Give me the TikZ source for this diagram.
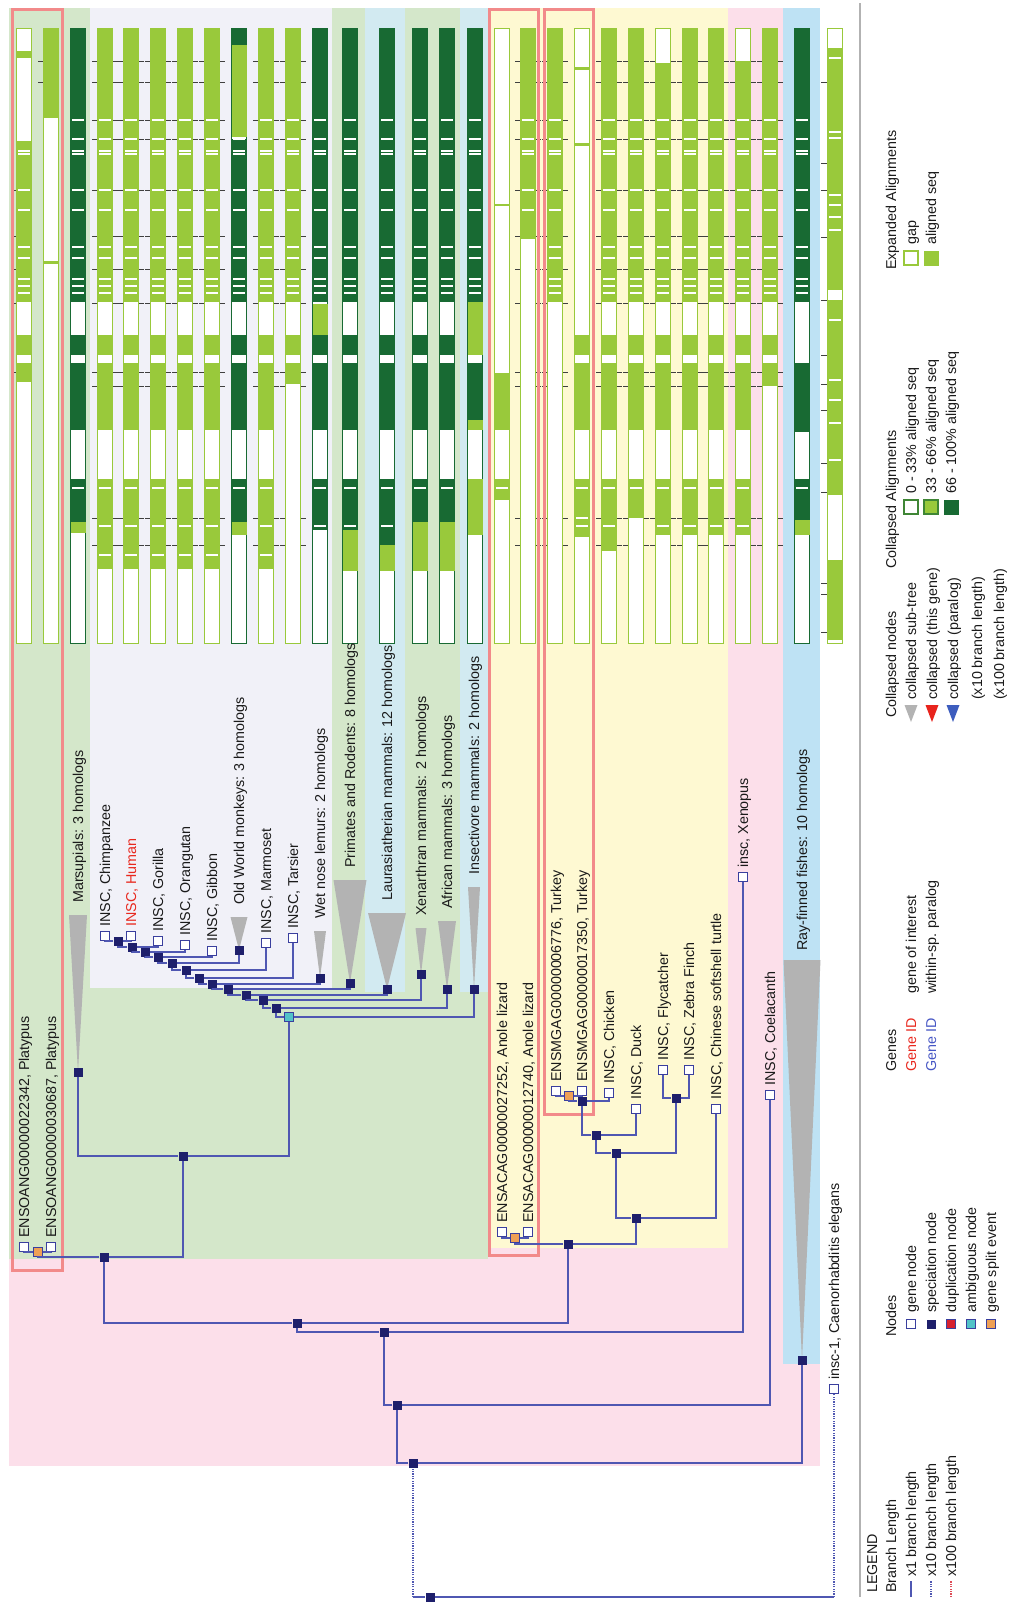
\documentclass[tikz,border=0pt]{standalone}
\usepackage{fontspec}
\setmainfont{Liberation Sans}
\usepackage{tikz}
\usetikzlibrary{calc}
\definecolor{branchc}{HTML}{4F57B2}
\definecolor{genebd}{HTML}{3A3F9E}
\definecolor{specc}{HTML}{1E1F6B}
\definecolor{splitc}{HTML}{EFA055}
\definecolor{ambigc}{HTML}{52C3C8}
\definecolor{duplc}{HTML}{D6202E}
\definecolor{bgpink}{HTML}{FCDFEA}
\definecolor{bggreen}{HTML}{D4E7CA}
\definecolor{bglav}{HTML}{F1F1F8}
\definecolor{bgblue}{HTML}{D2EAF1}
\definecolor{bgyellow}{HTML}{FEF9D2}
\definecolor{bgfish}{HTML}{BEE2F4}
\definecolor{hilite}{HTML}{F28A8A}
\definecolor{alnlight}{HTML}{99C93B}
\definecolor{alndark}{HTML}{186A33}
\definecolor{collgrey}{HTML}{B3B3B3}
\definecolor{collred}{HTML}{E8241D}
\definecolor{collblue}{HTML}{3D5DBE}
\definecolor{txt}{HTML}{1A1A1A}
\definecolor{goi}{HTML}{E8281E}
\definecolor{para}{HTML}{4656C4}

% filled spans of an alignment column: x, colour, ya/yb list
\newcommand{\alnfill}[3]{%
  \edef\alnspans{#3}%
  \foreach \ya/\yb in \alnspans {\fill[#2] (#1-7.5,\ya) rectangle (#1+7.5,\yb);}}
% alignment column: x, colour, filled spans, white stripes
\newcommand{\alncol}[4]{%
  \draw[#2, line width=0.8pt, fill=white] (#1-7.5,28) rectangle (#1+7.5,643);
  \alnfill{#1}{#2}{#3}%
  \edef\alnstripes{#4}%
  \foreach \ys in \alnstripes {\fill[white] (#1-6.3,\ys-1.1) rectangle (#1+6.3,\ys+1.1);}}
\def\spanstd{28/302,335/355,363/430,479/569}
\def\stripstd{120,139,151,154,190,210,247,258,279,286,293,488,526,555}
\def\tickstd{61,82,120,139,190,236,269,303,372,386,518,545}

\begin{document}
\begin{tikzpicture}[x=1pt, y=-1pt,
    every node/.style={font=\fontsize{14.3}{16}\selectfont, text=txt},
    lbl/.style={rotate=90, anchor=west, inner sep=0pt, text height=10pt, text depth=0pt},
    gene/.style={rectangle, draw=genebd, fill=white, line width=1.4pt, minimum size=8.5pt, inner sep=0pt},
    specn/.style={rectangle, fill=specc, minimum size=9pt, inner sep=0pt},
    gsplit/.style={rectangle, draw=genebd, fill=splitc, line width=1.2pt, minimum size=9pt, inner sep=0pt},
    ambn/.style={rectangle, draw=genebd, fill=ambigc, line width=1.2pt, minimum size=9pt, inner sep=0pt},
    dupn/.style={rectangle, draw=genebd, fill=duplc, line width=1.2pt, minimum size=9pt, inner sep=0pt},
    branch/.style={draw=branchc, line width=1.3pt},
    xten/.style={branch, dash pattern=on 1.2pt off 1.2pt},
    xhund/.style={draw=duplc!80, line width=1.3pt, dash pattern=on 1.2pt off 1.2pt},
    hibox/.style={draw=hilite, line width=3pt},
    gapmark/.style={draw=black!75, line width=0.9pt},
  ]
  \useasboundingbox (0,0) rectangle (1010,1607);

  % taxon backgrounds
  \fill[bgpink] (9,8) rectangle (820,1466);
  \fill[bggreen] (9,8) rectangle (488,1259);
  \fill[bglav] (90,8) rectangle (332,988);
  \fill[bgblue] (365,8) rectangle (405,992);
  \fill[bgblue] (460,8) rectangle (488,992);
  \fill[bgyellow] (488,8) rectangle (728,1248);
  \fill[bgfish] (783,8) rectangle (820,1364);

  % gap marks beside expanded columns
  \foreach \x in {105,131,158,185,212,266,293,528,555,609,636,663,690,716,743,770}
    \foreach \y in \tickstd {\draw[gapmark] (\x-13,\y) -- (\x+13,\y);}
  \foreach \y in {190,236,269,303,372} {\draw[gapmark] (11,\y) -- (24,\y);}
  \foreach \y in {61,82} {\draw[gapmark] (38,\y) -- (51,\y);}
  \foreach \y in {82,163,190,237,300,355,384,410,463,492,583,594,632} {\draw[gapmark] (821,\y) -- (835,\y);}

  % alignments
  \alncol{24}{alnlight}{51/58,141/302,335/355,363/382}{\stripstd}
  \alncol{51}{alnlight}{28/118,261/264}{120}
  \alncol{78}{alndark}{28/302,335/355,363/430,479/522}{\stripstd}
  \alnfill{78}{alnlight}{522/533}
  \foreach \x in {105,131,158,185,212,266} {\alncol{\x}{alnlight}{\spanstd}{\stripstd}}
  \alncol{239}{alndark}{28/45,139/302,335/355,363/430,479/522}{\stripstd}
  \alnfill{239}{alnlight}{45/137,522/535}
  \alncol{293}{alnlight}{28/302,335/355,363/384}{\stripstd}
  \alncol{320}{alndark}{28/302,335/355,363/430,479/530}{\stripstd}
  \alnfill{320}{alnlight}{304/335}
  \alncol{350}{alndark}{28/302,335/355,363/430,479/530}{\stripstd}
  \alnfill{350}{alnlight}{530/571}
  \alncol{387}{alndark}{28/302,335/355,363/430,479/545}{\stripstd}
  \alnfill{387}{alnlight}{545/571}
  \alncol{420}{alndark}{28/302,335/355,363/430,479/522}{\stripstd}
  \alnfill{420}{alnlight}{522/571}
  \alncol{447}{alndark}{28/302,335/355,363/430,479/522}{\stripstd}
  \alnfill{447}{alnlight}{522/571}
  \alncol{475}{alndark}{28/302,363/420}{\stripstd}
  \alnfill{475}{alnlight}{302/355,420/430,479/535}
  \alncol{502}{alnlight}{204/206,373/430,479/500}{488}
  \alncol{528}{alnlight}{28/239}{\stripstd}
  \alncol{555}{alnlight}{28/302}{\stripstd}
  \alncol{582}{alnlight}{67/70,143/146,335/355,363/430,479/537}{488,518,526}
  \alncol{609}{alnlight}{28/302,335/355,363/430,479/551}{\stripstd}
  \alncol{636}{alnlight}{28/302,335/355,363/430,479/518}{\stripstd}
  \alncol{663}{alnlight}{63/302,335/355,363/430,479/535}{\stripstd}
  \alncol{690}{alnlight}{28/302,335/355,363/430,479/535}{\stripstd}
  \alncol{716}{alnlight}{28/302,335/355,363/430,479/535}{\stripstd}
  \alncol{743}{alnlight}{61/302,335/355,363/430,479/535}{\stripstd}
  \alncol{770}{alnlight}{28/302,335/355,363/386}{\stripstd}
  \alncol{802}{alndark}{28/302,363/432,479/520}{\stripstd}
  \alnfill{802}{alnlight}{520/535}
  \alncol{835}{alnlight}{48/290,300/495,560/640}{58,132,138,195,205,217,230,320,380,400,423,460}

  % highlighted genes
  \draw[hibox] (12,9) rectangle (62,1270);
  \draw[hibox] (489,9) rectangle (538,1255);
  \draw[hibox] (544,9) rectangle (593,1114);

  % collapsed sub-trees
  \foreach \nm/\x/\y/\tp/\hw in {marsup/78/1072/915/9, owm/239/950/917/8.5, wetnose/320/978/931/6,
      primrod/350/983/880/16.5, laur/387/989/913/19, xenar/421/974/928/5.5,
      afric/447/989/921/9, insect/474/989/887/6, rayfin/802/1360/960/18.5}
  {
    \fill[collgrey] (\x-\hw,\tp) -- (\x+\hw,\tp) -- (\x,\y) -- cycle;
    \node[specn] (\nm) at (\x,\y) {};
  }

  % gene nodes
  \foreach \nm/\x/\y in {plata/24/1247, platb/51/1247, chimp/105/936, human/131/936,
      gorilla/158/941, orang/185/945, gibbon/212/951, marmoset/266/943, tarsier/293/938,
      anola/502/1232, anolb/528/1232, turka/556/1091, turkb/582/1091, chicken/609/1093,
      duck/636/1109, flycatcher/663/1070, zfinch/689/1070, turtle/716/1109,
      xenopus/743/877, coel/770/1095, celeg/834/1389}
    \node[gene] (\nm) at (\x,\y) {};

  % speciation, ambiguous and split nodes
  \foreach \nm/\x/\y in {n1/118/941, n2/132/947, n3/145/952, n4/158/957, n5/172/963,
      n6/186/970, n7/199/978, n8/212/984, n9/228/989, n10/246/995, n11/263/1000,
      n12/276/1008, theria/183/1156, mammal/104/1257, amniota/297/1323, tetra/384/1332,
      sarco/397/1405, verte/413/1463, root/430/1597, sauro/568/1244, archo/636/1218,
      aves/616/1153, galloan/596/1135, gall/582/1101, passer/676/1098}
    \node[specn] (\nm) at (\x,\y) {};
  \node[ambn] (n13) at (289,1017) {};
  \foreach \nm/\x/\y in {plasplit/38/1252, anosplit/515/1238, turksplit/569/1096}
    \node[gsplit] (\nm) at (\x,\y) {};

  % branches
  \foreach \p/\c in {plasplit/plata, plasplit/platb, n1/chimp, n1/human, n2/n1, n2/gorilla,
      n3/n2, n3/orang, n4/n3, n4/gibbon, n5/n4, n5/owm, n6/n5, n6/marmoset, n7/n6,
      n7/tarsier, n8/n7, n8/wetnose, n9/n8, n9/primrod, n10/n9, n10/laur, n11/n10,
      n11/xenar, n12/n11, n12/afric, n13/n12, n13/insect, theria/marsup, theria/n13,
      mammal/plasplit, mammal/theria, anosplit/anola, anosplit/anolb, turksplit/turka,
      turksplit/turkb, gall/turksplit, gall/chicken, galloan/gall, galloan/duck,
      passer/flycatcher, passer/zfinch, aves/galloan, aves/passer, archo/aves,
      archo/turtle, sauro/anosplit, sauro/archo, amniota/mammal, amniota/sauro,
      tetra/amniota, tetra/xenopus, sarco/tetra, sarco/coel, verte/sarco, verte/rayfin}
    \draw[branch] (\p) -| (\c);
  \draw[branch] (root) -- (verte |- root);
  \draw[branch] (root) -- (celeg |- root);
  \draw[xten] (verte |- root) -- (verte);
  \draw[xten] (celeg |- root) -- (celeg);

  % leaf labels
  \foreach \nm/\x/\y/\lab in {plata/24/1238/{ENSOANG00000022342, Platypus},
      platb/51/1238/{ENSOANG00000030687, Platypus},
      marsup/78/903/{Marsupials: 3 homologs},
      chimp/105/927/{INSC, Chimpanzee}, gorilla/158/932/{INSC, Gorilla},
      orang/185/936/{INSC, Orangutan}, gibbon/212/942/{INSC, Gibbon},
      owm/239/905/{Old World monkeys: 3 homologs}, marmoset/266/934/{INSC, Marmoset},
      tarsier/293/929/{INSC, Tarsier}, wetnose/320/919/{Wet nose lemurs: 2 homologs},
      primrod/350/868/{Primates and Rodents: 8 homologs},
      laur/387/901/{Laurasiatherian mammals: 12 homologs},
      xenar/421/916/{Xenarthran mammals: 2 homologs},
      afric/447/909/{African mammals: 3 homologs},
      insect/474/875/{Insectivore mammals: 2 homologs},
      anola/502/1223/{ENSACAG00000027252, Anole lizard},
      anolb/528/1223/{ENSACAG00000012740, Anole lizard},
      turka/556/1082/{ENSMGAG00000006776, Turkey},
      turkb/582/1082/{ENSMGAG00000017350, Turkey},
      chicken/609/1084/{INSC, Chicken}, duck/636/1100/{INSC, Duck},
      flycatcher/663/1061/{INSC, Flycatcher}, zfinch/689/1061/{INSC, Zebra Finch},
      turtle/716/1100/{INSC, Chinese softshell turtle}, xenopus/743/868/{insc, Xenopus},
      coel/770/1086/{INSC, Coelacanth}, rayfin/802/951/{Ray-finned fishes: 10 homologs},
      celeg/834/1380/{insc-1, Caenorhabditis elegans}}
    \node[lbl] (l\nm) at (\x,\y) {\lab};
  \node[lbl, text=goi] (lhuman) at (131,927) {INSC, Human};

  % Legend
  \coordinate (sepa) at (860,3);
  \coordinate (sepb) at (860,1597);
  \draw[gray!60, line width=1.6pt] (sepa) -- (sepb);
  \node[lbl] (lgdtitle) at (872,1593) {LEGEND};
  \node[lbl] (lgdbl) at (891,1593) {Branch Length};
  \foreach \i/\st/\lab in {0/branch/x1 branch length, 1/xten/x10 branch length, 2/xhund/x100 branch length}
  {
    \coordinate (bla\i) at (911+20*\i,1597);
    \coordinate (blb\i) at (911+20*\i,1581);
    \draw[\st] (bla\i) -- (blb\i);
    \node[lbl] (lgdb\i) at (911+20*\i,1577) {\lab};
  }
  \node[lbl] (lgdnodes) at (891,1337) {Nodes};
  \foreach \i/\st/\lab in {0/gene/gene node, 1/specn/speciation node, 2/dupn/duplication node,
      3/ambn/ambiguous node, 4/gsplit/gene split event}
  {
    \node[\st] (lgdn\i) at (911+20*\i,1324) {};
    \node[lbl] (lgdt\i) at (911+20*\i,1313) {\lab};
  }
  \node[lbl] (lgdgenes) at (891,1072) {Genes};
  \node[lbl, text=goi] (lgdgoi) at (911,1072) {Gene ID};
  \node[lbl, text=para] (lgdpara) at (931,1072) {Gene ID};
  \node[lbl] (lgdgoit) at (911,994) {gene of interest};
  \node[lbl] (lgdparat) at (931,994) {within-sp. paralog};
  \node[lbl] (lgdcoll) at (891,718) {Collapsed nodes};
  \foreach \i/\c in {0/collgrey, 1/collred, 2/collblue}
    \fill[\c] (911+21*\i-6.5,705) -- (911+21*\i+6.5,705) -- (911+21*\i,722) -- cycle;
  \foreach \x/\lab in {911/collapsed sub-tree, 932/collapsed (this gene), 953/collapsed (paralog),
      977/(x10 branch length), 999/(x100 branch length)}
    \node[lbl] at (\x,700) {\lab};
  \node[lbl] (lgdcaln) at (891,569) {Collapsed Alignments};
  \draw[alndark!70!alnlight, line width=1.2pt, fill=white] (904,500) rectangle (918,514);
  \draw[alndark!70!alnlight, line width=1.2pt, fill=alnlight] (924,500) rectangle (938,514);
  \fill[alndark] (943.5,499.5) rectangle (958.5,514.5);
  \node[lbl] (lgdc0) at (911,494) {0 - 33\% aligned seq};
  \node[lbl] (lgdc1) at (931,494) {33 - 66\% aligned seq};
  \node[lbl] (lgdc2) at (951,494) {66 - 100\% aligned seq};
  \node[lbl] (lgdealn) at (891,270) {Expanded Alignments};
  \draw[alnlight, line width=1.2pt, fill=white] (904,251) rectangle (918,265);
  \fill[alnlight] (923.5,250.5) rectangle (938.5,265.5);
  \node[lbl] (lgde0) at (911,245) {gap};
  \node[lbl] (lgde1) at (931,245) {aligned seq};
\end{tikzpicture}
\end{document}
